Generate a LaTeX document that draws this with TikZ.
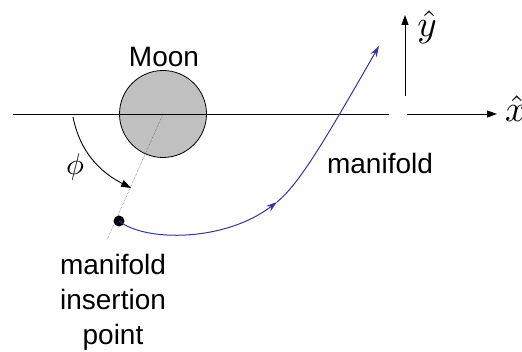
\documentclass[tikz,border=0pt]{standalone}
\usepackage{fontspec}
\setmainfont{Liberation Sans}
\usetikzlibrary{arrows.meta}
\definecolor{moongray}{RGB}{192,192,192}
\definecolor{manblue}{RGB}{51,51,170}
\newcommand{\mathbigsym}[2]{\scalebox{#1}{$#2$}}
\tikzset{
  lbl/.style={font=\fontsize{28}{35}\selectfont, inner sep=0pt, align=center},
  mlbl/.style={font=\normalsize, inner sep=0pt},
  axis/.style={line width=0.9pt, -{Triangle[length=10pt,width=7pt]}},
  traj/.style={manblue, line width=1pt, -{Stealth[length=11pt,width=7pt]}},
}
\begin{document}
\begin{tikzpicture}[x=1pt,y=-1pt]
\useasboundingbox (0,0) rectangle (522,352);
% axes
\coordinate (xl) at (13,114);
\coordinate (xg1) at (389,114);
\coordinate (xg2) at (407,114);
\coordinate (xe) at (497,114);
\coordinate (yb) at (405,96);
\coordinate (ye) at (405,15);
\draw[line width=0.9pt] (xl) -- (xg1);
\draw[axis] (xg2) -- (xe);
\draw[axis] (yb) -- (ye);
\node[mlbl, anchor=west] (xh) at (505,109) {\mathbigsym{3.7}{\hat{x}}};
\node[mlbl] (yh) at (427,27) {\mathbigsym{3.7}{\hat{y}}};
% moon
\node[circle, draw, line width=0.8pt, fill=moongray, minimum size=87pt, inner sep=0pt] (moon) at (163,114) {};
\draw[line width=0.9pt] (moon.west) -- (moon.east);
\node[lbl] (moonlbl) at (164,57) {Moon};
% dotted line and insertion point
\coordinate (dl) at (107,240);
\draw[densely dotted, line width=0.5pt, black!70] (moon.center) -- (dl);
\node[circle, fill=black, minimum size=11pt, inner sep=0pt] (ins) at (119,221) {};
% phi arrow
\coordinate (ps) at (73,117);
\coordinate (pe) at (131,188);
\draw[line width=0.9pt, -{Triangle[length=10pt,width=7pt]}] (ps) .. controls (80,152) and (100,172) .. (pe);
\node[mlbl] (phi) at (75,167) {\mathbigsym{3}{\phi}};
% trajectory
\coordinate (mid) at (277,202);
\coordinate (top) at (379,46);
\draw[traj] (ins.center) .. controls (145,242) and (225,242) .. (mid);
\draw[traj] (mid) .. controls (300,183) and (325,140) .. (top);
% labels
\node[lbl] (manlbl) at (380,163) {manifold};
\node[lbl] (inslbl) at (113,302) {manifold\\insertion\\point};
\end{tikzpicture}
\end{document}
